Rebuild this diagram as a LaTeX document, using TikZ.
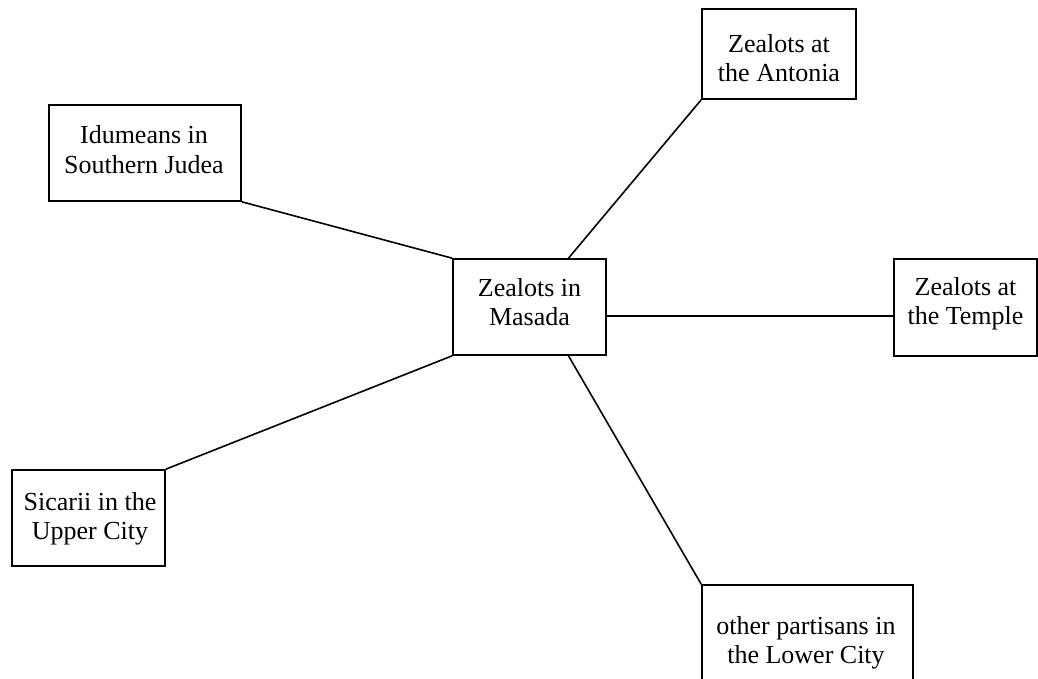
\documentclass[tikz,border=0pt]{standalone}
\usepackage{fontspec}
\setmainfont{Liberation Serif}
\usetikzlibrary{calc}
\begin{document}
\begin{tikzpicture}[x=1pt,y=-1pt,
  box/.style={draw, line width=1.6pt, inner sep=0pt, rectangle},
  lbl/.style={inner sep=0pt, anchor=north, align=center, font=\fontsize{26}{29.5}\selectfont},
  conn/.style={line width=1.6pt}]
\useasboundingbox (0,0) rectangle (1038,679);
\begin{scope}
\clip (0,0) rectangle (1038,679);
\node[box, minimum width=192pt, minimum height=96pt] (idu) at (145,153) {};
\node[box, minimum width=154pt, minimum height=90pt] (ant) at (779,54) {};
\node[box, minimum width=153pt, minimum height=96pt] (mas) at (529.5,307) {};
\node[box, minimum width=143pt, minimum height=97pt] (tem) at (965.5,307.5) {};
\node[box, minimum width=153pt, minimum height=96pt] (sic) at (88.5,518) {};
\node[box, minimum width=211pt, minimum height=96pt] (low) at (807.5,633) {};
\end{scope}
\node[lbl] (tidu) at (144,141.7-18.6) {\strut Idumeans in\\ Southern Judea};
\node[lbl] (tant) at (779,50-18.6) {\strut Zealots at\\ the Antonia};
\node[lbl] (tmas) at (529.5,294-18.6) {\strut Zealots in\\ Masada};
\node[lbl] (ttem) at (965.5,293-18.6) {\strut Zealots at\\ the Temple};
\node[lbl] (tsic) at (90,508-18.6) {\strut Sicarii in the\\ Upper City};
\node[lbl] (tlow) at (806,632-18.6) {\strut other partisans in\\ the Lower City};
\coordinate (mtop) at ($(mas.north west)!0.752!(mas.north east)$);
\coordinate (mbot) at ($(mas.south west)!0.752!(mas.south east)$);
\coordinate (mright) at ($(mas.east)+(0,9)$);
\draw[conn] (idu.south east) -- (mas.north west);
\draw[conn] (ant.south west) -- (mtop);
\draw[conn] (mright) -- (tem.west |- mright);
\draw[conn] (sic.north east) -- (mas.south west);
\draw[conn] (mbot) -- (low.north west);
\end{tikzpicture}
\end{document}
